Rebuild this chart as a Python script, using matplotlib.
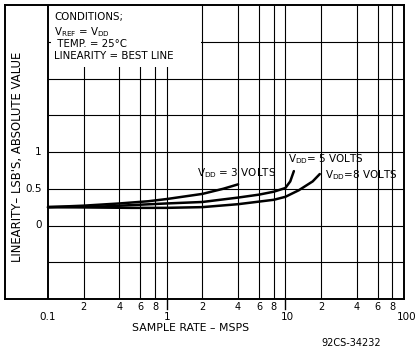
import matplotlib
matplotlib.use("Agg")
import matplotlib.pyplot as plt
from matplotlib.patches import Rectangle

# ---- data ----
x_3v = [0.1, 0.2, 0.4, 0.7, 1.0, 2.0, 3.0, 4.0]
y_3v = [0.25, 0.27, 0.30, 0.33, 0.36, 0.43, 0.50, 0.56]

x_5v = [0.1, 0.3, 1.0, 2.0, 4.0, 6.0, 8.0, 10.0, 11.0, 11.8]
y_5v = [0.25, 0.26, 0.30, 0.32, 0.38, 0.42, 0.46, 0.51, 0.60, 0.74]

x_8v = [0.1, 0.5, 1.0, 2.0, 4.0, 8.0, 10.0, 13.0, 17.0, 19.5]
y_8v = [0.25, 0.24, 0.24, 0.25, 0.29, 0.35, 0.39, 0.48, 0.60, 0.70]

ytick_vals = [0, 0.5, 1]
ytick_labels = ["0", "0.5", "1"]
ygrid_vals = [-0.5, 0, 0.5, 1, 1.5, 2, 2.5]
decades = [0.1, 1, 10, 100]
decade_labels = ["0.1", "1", "10", "100"]
minor_mult = [2, 4, 6, 8]

plt.rcParams['font.family'] = ['DejaVu Sans']

fig = plt.figure(figsize=(4.18, 3.52), dpi=100)
ax = fig.add_axes([5/418, 1-299/352, (404-5)/418, (299-5)/352])
ax.set_xscale('log')
xmin = 10 ** (-1 - 43/118.67)
ax.set_xlim(xmin, 100)
ax.set_ylim(-1, 3)
ax.set_xticks([])
ax.set_yticks([])
ax.minorticks_off()
for s in ax.spines.values():
    s.set_linewidth(1.4)
    s.set_color('black')

# grid
vlines = []
for d in decades[:-1]:
    for m in minor_mult:
        vlines.append(d * m)
    vlines.append(d * 10)
ax.vlines(vlines, -1, 3, colors='black', lw=0.8, zorder=1)
ax.axvline(0.1, color='black', lw=1.4, zorder=2)
ax.hlines(ygrid_vals, 0.1, 100, colors='black', lw=0.8, zorder=1)

# conditions box (white area covering grid)
ax.add_patch(Rectangle((0.105, 2.15), 1.93 - 0.105, 0.83, facecolor='white',
                       edgecolor='none', zorder=3))
cond = ["CONDITIONS;", r"V$_{\rm REF}$ = V$_{\rm DD}$", " TEMP. = 25°C",
        "LINEARITY = BEST LINE"]
ys = [2.83, 2.63, 2.47, 2.31]
for t, yy in zip(cond, ys):
    ax.text(0.113, yy, t, fontsize=7.4, ha='left', va='center', zorder=4)

# curves
for xs, yv in [(x_3v, y_3v), (x_5v, y_5v), (x_8v, y_8v)]:
    ax.plot(xs, yv, color='black', lw=1.8, zorder=5, solid_capstyle='round')

ax.text(1.8, 0.71, r"V$_{\rm DD}$ = 3 VOLTS", fontsize=7.5, ha='left', va='center', zorder=6)
ax.text(10.5, 0.90, r"V$_{\rm DD}$= 5 VOLTS", fontsize=7.5, ha='left', va='center', zorder=6)
ax.text(21.5, 0.69, r"V$_{\rm DD}$=8 VOLTS", fontsize=7.5, ha='left', va='center', zorder=6)

# y tick labels
for v, l in zip(ytick_vals, ytick_labels):
    ax.text(0.088, v, l, fontsize=7.5, ha='right', va='center')

# x tick labels
for d in decades[:-1]:
    for m in minor_mult:
        ax.text(d * m, -1.11, str(m), fontsize=7, ha='center', va='center', clip_on=False)
for d, l in zip(decades, decade_labels):
    ax.text(d * (1.0 if d != 10 and d != 100 else 1.05), -1.25, l, fontsize=7.5,
            ha='center', va='center', clip_on=False)
for d in [1, 10]:
    ax.plot([d, d], [-1, -1.14], color='black', lw=1.0, clip_on=False)

fig.text(18/418, 1-157/352, "LINEARITY– LSB'S, ABSOLUTE VALUE", rotation=90,
         fontsize=8.4, ha='center', va='center')

fig.text(191/418, 1-328/352, "SAMPLE RATE – MSPS", fontsize=7.8, ha='center', va='center')
fig.text(351/418, 1-343/352, "92CS-34232", fontsize=7, ha='center', va='center')

fig.savefig("out.png", dpi=100, facecolor='white')
